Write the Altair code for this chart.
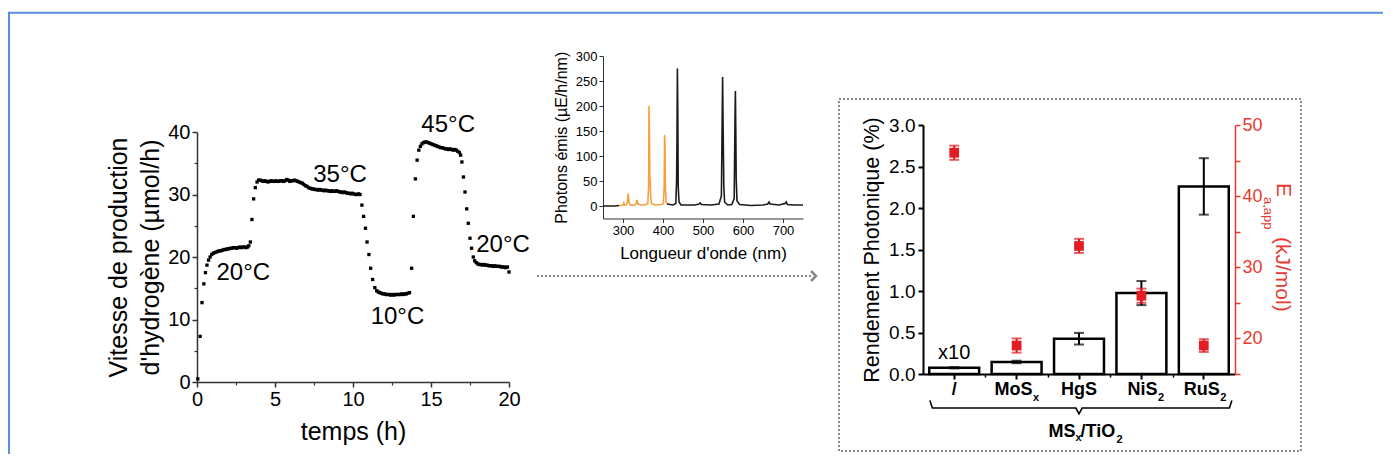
import altair as alt
import pandas as pd

FONT = "Liberation Sans"
W, H = 1375, 446
RED = "#e31d23"
RED_AX = "#e8392f"
ORANGE = "#f5a03c"
BLUE = "#5b8fd5"
GREY = "#8a8a8a"

# ---------------- panel 1 : H2 production rate vs time ----------------
time_h = [0.05, 0.2, 0.32, 0.44, 0.54, 0.64, 0.74, 0.84, 0.94,
          1.04, 1.14, 1.24, 1.34, 1.44, 1.54, 1.64, 1.74, 1.84, 1.94,
          2.04, 2.14, 2.24, 2.34, 2.44, 2.54, 2.64, 2.74, 2.84, 2.94,
          3.04, 3.14, 3.24, 3.32, 3.42, 3.52, 3.63, 3.74, 3.85, 3.95,
          4.05, 4.15, 4.25, 4.35, 4.45, 4.55, 4.65, 4.75, 4.85, 4.95,
          5.05, 5.15, 5.25, 5.35, 5.45, 5.55, 5.65, 5.75, 5.85, 5.95,
          6.05, 6.15, 6.25, 6.35, 6.45, 6.55, 6.65, 6.75, 6.85, 6.95,
          7.05, 7.15, 7.25, 7.35, 7.45, 7.55, 7.65, 7.75, 7.85, 7.95,
          8.05, 8.15, 8.25, 8.35, 8.45, 8.55, 8.65, 8.75, 8.85, 8.95,
          9.05, 9.15, 9.25, 9.35, 9.45, 9.55, 9.65, 9.75, 9.85, 9.95,
          10.05, 10.15, 10.25, 10.35, 10.45,
          10.57, 10.68, 10.8, 10.9, 11.02, 11.13, 11.26, 11.4, 11.52,
          11.62, 11.72, 11.82, 11.92, 12.02, 12.12, 12.22, 12.32, 12.42, 12.52,
          12.62, 12.72, 12.82, 12.92, 13.02, 13.12, 13.22, 13.32, 13.42, 13.52, 13.62,
          13.76, 13.87, 14.0, 14.11, 14.22,
          14.32, 14.42, 14.52, 14.62, 14.72, 14.82, 14.92, 15.02, 15.12, 15.22,
          15.32, 15.42, 15.52, 15.62, 15.72, 15.82, 15.92, 16.02, 16.12, 16.22,
          16.32, 16.42, 16.52, 16.62, 16.72, 16.82, 16.9,
          16.98, 17.08, 17.18, 17.29, 17.39, 17.5, 17.6, 17.71,
          17.8, 17.9, 18.0, 18.1, 18.2, 18.3, 18.4, 18.5, 18.6, 18.7,
          18.8, 18.9, 19.0, 19.1, 19.2, 19.3, 19.4, 19.5, 19.6, 19.7,
          19.8, 19.9, 20.0]
rate = [0.5, 7.3, 12.7, 15.7, 17.5, 18.7, 19.5, 20.0, 20.4,
        20.6, 20.7, 20.8, 20.9, 21.0, 21.0, 21.1, 21.2, 21.2, 21.3,
        21.3, 21.4, 21.4, 21.5, 21.5, 21.4, 21.5, 21.6, 21.5, 21.6,
        21.6, 21.5, 21.6, 21.8, 22.4, 26.0, 29.3, 31.1, 32.0, 32.3,
        32.3, 32.2, 32.1, 32.2, 32.1, 32.0, 32.1, 32.2, 32.1, 32.1,
        32.2, 32.1, 32.1, 32.2, 32.2, 32.1, 32.2, 32.4, 32.3, 32.1,
        32.2, 32.2, 32.3, 32.2, 32.1, 32.0, 31.9, 31.8, 31.6, 31.4,
        31.3, 31.1, 31.0, 30.9, 30.9, 30.8, 30.8, 30.7, 30.8, 30.7,
        30.7, 30.6, 30.7, 30.6, 30.6, 30.5, 30.6, 30.5, 30.5, 30.6,
        30.5, 30.4, 30.4, 30.3, 30.4, 30.3, 30.2, 30.2, 30.1, 30.2,
        30.1, 30.0, 30.0, 30.1, 30.0,
        28.3, 26.5, 24.6, 22.4, 20.4, 18.2, 16.4, 15.1, 14.6,
        14.4, 14.3, 14.2, 14.1, 14.1, 14.0, 14.0, 14.0, 13.9, 14.0,
        13.9, 14.0, 14.0, 14.0, 14.0, 14.1, 14.0, 14.1, 14.1, 14.2, 14.3,
        18.2, 26.5, 32.5, 35.5, 37.1,
        37.7, 38.1, 38.3, 38.4, 38.4, 38.3, 38.2, 38.1, 38.0, 37.9,
        37.8, 37.7, 37.6, 37.5, 37.5, 37.4, 37.3, 37.3, 37.2, 37.3,
        37.2, 37.1, 37.2, 37.1, 36.9, 36.7, 36.3,
        35.2, 32.8, 30.4, 27.7, 25.4, 23.0, 21.4, 20.0,
        19.4, 19.1, 18.9, 18.8, 18.8, 18.7, 18.8, 18.7, 18.7, 18.6,
        18.6, 18.6, 18.5, 18.6, 18.5, 18.5, 18.5, 18.4, 18.4, 18.4,
        18.3, 18.4, 17.6]
temp_labels = ["20°C", "35°C", "10°C", "45°C", "20°C"]
temp_t = [2.97, 9.17, 12.85, 16.1, 19.62]
temp_v = [17.5, 33.2, 10.4, 41.1, 21.9]

# ---------------- panel 2 : lamp emission spectrum ----------------
nm_vis1 = [250, 265, 280, 290]
ph_vis1 = [0, 0, 0, 1]
nm_uv = [290, 296, 300, 302, 304, 308, 311, 313, 315, 318, 330, 333, 335, 337, 345, 355, 362,
         364, 365, 366, 367, 368, 369, 371, 380, 395, 401, 403, 404, 405, 406, 407, 408, 410]
ph_uv = [1, 1, 2, 6, 2, 2, 8, 25, 8, 2, 2, 5, 12, 4, 2, 2, 5,
         40, 200, 150, 55, 50, 20, 5, 2, 3, 5, 40, 142, 120, 30, 25, 8, 4]
nm_vis2 = [410, 425, 432, 434, 435, 436, 437, 438, 440, 445, 480, 490, 493, 496, 520, 540,
           546, 548, 549, 550, 551, 552, 554, 562, 572, 578, 580, 581, 582, 583, 585, 592,
           620, 650, 662, 665, 668, 690, 705, 708, 711, 730, 750]
ph_vis2 = [4, 2, 5, 50, 135, 275, 185, 40, 8, 2, 2, 4, 6, 3, 2, 4,
           20, 175, 258, 180, 110, 40, 8, 2, 3, 15, 175, 230, 150, 55, 10, 3,
           1, 2, 4, 8, 4, 2, 5, 8, 3, 2, 2]

# ---------------- panel 3 : photonic yield and activation energy ----------------
cats = ["/", "MoSx", "HgS", "NiS2", "RuS2"]
cat_main = ["/", "MoS", "HgS", "NiS", "RuS"]
cat_sub = ["", "x", "", "2", "2"]
yield_pct = [0.075, 0.145, 0.425, 0.975, 2.26]
yield_err = [0.008, 0.015, 0.07, 0.145, 0.34]
ea_kj = [46.1, 19.0, 33.0, 26.0, 19.0]
ea_err = [1.0, 1.0, 1.0, 1.0, 0.9]
brace_x = [-0.39, -0.35, 1.95, 2.0, 2.05, 4.41, 4.45]
brace_y = [-0.32, -0.41, -0.41, -0.48, -0.41, -0.41, -0.32]

# ---------------- tables ----------------
ts_df = pd.DataFrame({"t": time_h, "v": rate})
ann_df = pd.DataFrame({"t": temp_t, "v": temp_v, "lab": temp_labels})
spec_df = pd.concat([
    pd.DataFrame({"nm": nm_vis1, "ph": ph_vis1, "part": "vis", "seg": "a"}),
    pd.DataFrame({"nm": nm_uv, "ph": ph_uv, "part": "uv", "seg": "b"}),
    pd.DataFrame({"nm": nm_vis2, "ph": ph_vis2, "part": "vis", "seg": "c"}),
], ignore_index=True)
cat_df = pd.DataFrame({"cat": cats, "main": cat_main, "sub": cat_sub,
                       "yld": yield_pct, "yerr": yield_err, "ea": ea_kj, "eerr": ea_err})
cat_df["ylo"] = cat_df["yld"] - cat_df["yerr"]
cat_df["yhi"] = cat_df["yld"] + cat_df["yerr"]
cat_df["elo"] = cat_df["ea"] - cat_df["eerr"]
cat_df["ehi"] = cat_df["ea"] + cat_df["eerr"]
ycaps = pd.concat([cat_df[["cat", "ylo"]].rename(columns={"ylo": "val"}),
                   cat_df[["cat", "yhi"]].rename(columns={"yhi": "val"})])
ecaps = pd.concat([cat_df[["cat", "elo"]].rename(columns={"elo": "val"}),
                   cat_df[["cat", "ehi"]].rename(columns={"ehi": "val"})])
brace_df = pd.DataFrame({"bx": brace_x, "by": brace_y, "k": list(range(len(brace_x)))})
one = pd.DataFrame({"k": [0]})

# ---------------- scales (pixel ranges inside the single canvas) ----------------
x1 = alt.Scale(domain=[0, 20], range=[189, 501], nice=False, zero=False)
y1 = alt.Scale(domain=[0, 40], range=[374, 124], nice=False, zero=False)
x2s = alt.Scale(domain=[250, 750], range=[595, 795], nice=False, zero=False)
y2s = alt.Scale(domain=[-25, 300], range=[210.5, 48], nice=False, zero=False)
xb = alt.Scale(type="band", domain=cats, range=[915, 1227], paddingInner=0.2, paddingOuter=0.1)
xi = alt.Scale(domain=[-0.5, 4.5], range=[915, 1227], nice=False, zero=False)
yl = alt.Scale(domain=[0, 3], range=[366, 117], nice=False, zero=False)
yr = alt.Scale(domain=[15, 50], range=[366, 117], nice=False, zero=False)

layers = []

# ---- panel 1
layers.append(alt.Chart(ts_df).mark_square(size=11, color="black", opacity=1).encode(
    x=alt.X("t:Q", scale=x1, axis=alt.Axis(
        orient="bottom", offset=374 - H, values=[0, 5, 10, 15, 20], title="temps (h)",
        tickSize=5, labelFontSize=20, labelPadding=2, titleFontSize=25, titlePadding=10,
        domainWidth=1.5, tickWidth=1.5, labelFlush=False, domainColor="#333", tickColor="#333")),
    y=alt.Y("v:Q", scale=y1, axis=alt.Axis(
        orient="left", offset=-189, values=[0, 10, 20, 30, 40],
        title=["Vitesse de production", "d'hydrogène (µmol/h)"],
        tickSize=5, labelFontSize=20, labelPadding=2, titleFontSize=25, titlePadding=4,
        titleLineHeight=32, domainWidth=1.5, tickWidth=1.5, labelFlush=False,
        domainColor="#333", tickColor="#333"))))
layers.append(alt.Chart(ts_df).mark_point(opacity=0).encode(
    x=alt.X("t:Q", scale=x1, axis=alt.Axis(
        orient="bottom", offset=374 - H, values=[2.5, 7.5, 12.5, 17.5], labels=False,
        domain=False, tickSize=3, tickWidth=1.2, title=None, tickColor="#333")),
    y=alt.Y("v:Q", scale=y1, axis=alt.Axis(
        orient="left", offset=-189, values=[5, 15, 25, 35], labels=False,
        domain=False, tickSize=3, tickWidth=1.2, title=None, tickColor="#333"))))
layers.append(alt.Chart(ann_df).mark_text(fontSize=24, align="center", baseline="middle").encode(
    x=alt.X("t:Q", scale=x1, axis=None),
    y=alt.Y("v:Q", scale=y1, axis=None),
    text="lab:N"))

# ---- panel 2
layers.append(alt.Chart(spec_df).mark_line(strokeWidth=1.6).encode(
    x=alt.X("nm:Q", scale=x2s, axis=alt.Axis(
        orient="bottom", offset=210.5 - H, values=[300, 400, 500, 600, 700],
        title="Longueur d'onde (nm)", tickSize=4, labelFontSize=13, labelPadding=2,
        titleFontSize=17, titlePadding=8, labelFlush=False, domainColor="#333", tickColor="#333")),
    y=alt.Y("ph:Q", scale=y2s, axis=alt.Axis(
        orient="left", offset=-595, values=[0, 50, 100, 150, 200, 250, 300],
        title="Photons émis (µE/h/nm)", tickSize=4, labelFontSize=13, labelPadding=2,
        titleFontSize=16, titlePadding=6, labelFlush=False, domainColor="#333", tickColor="#333")),
    color=alt.Color("part:N", scale=alt.Scale(domain=["uv", "vis"], range=[ORANGE, "#1a1a1a"]), legend=None),
    detail="seg:N",
    order=alt.Order("nm:Q")))

# ---- panel 3
layers.append(alt.Chart(cat_df).mark_bar(fill="white", stroke="black", strokeWidth=2.5).encode(
    x=alt.X("cat:N", scale=xb, axis=alt.Axis(
        orient="bottom", offset=366 - H, labels=False, tickSize=5, tickWidth=2,
        domainWidth=2, title=None)),
    y=alt.Y("yld:Q", scale=yl, axis=alt.Axis(
        orient="left", offset=-915, values=[0, 0.5, 1, 1.5, 2, 2.5, 3], format=".1f",
        tickSize=5, tickWidth=2, domainWidth=2, labelFontSize=19, labelPadding=3,
        title="Rendement Photonique (%)", titleFontSize=21.5, titlePadding=5, labelFlush=False))))
layers.append(alt.Chart(brace_df).mark_line(color="black", strokeWidth=1.6).encode(
    x=alt.X("bx:Q", scale=xi, axis=alt.Axis(
        orient="bottom", offset=366 - H, values=[0.5, 1.5, 2.5, 3.5], labels=False,
        domain=False, tickSize=3, tickWidth=1.5, title=None)),
    y=alt.Y("by:Q", scale=yl, axis=None),
    order=alt.Order("k:Q")))
layers.append(alt.Chart(cat_df).mark_rule(color="black", strokeWidth=2).encode(
    x=alt.X("cat:N", scale=xb, axis=None),
    y=alt.Y("ylo:Q", scale=yl, axis=None), y2="yhi:Q"))
layers.append(alt.Chart(ycaps).mark_tick(color="black", thickness=2, size=10).encode(
    x=alt.X("cat:N", scale=xb, axis=None),
    y=alt.Y("val:Q", scale=yl, axis=None)))
layers.append(alt.Chart(cat_df).mark_rule(color=RED, strokeWidth=2).encode(
    x=alt.X("cat:N", scale=xb, axis=None),
    y=alt.Y("elo:Q", scale=yr, axis=None), y2="ehi:Q"))
layers.append(alt.Chart(ecaps).mark_tick(color=RED, thickness=2, size=10).encode(
    x=alt.X("cat:N", scale=xb, axis=None),
    y=alt.Y("val:Q", scale=yr, axis=None)))
layers.append(alt.Chart(cat_df).mark_square(size=95, color=RED, opacity=1).encode(
    x=alt.X("cat:N", scale=xb, axis=None),
    y=alt.Y("ea:Q", scale=yr, axis=alt.Axis(
        orient="right", offset=1227 - W, values=[15, 20, 25, 30, 35, 40, 45, 50],
        labelExpr="datum.value % 10 == 0 ? datum.label : ''",
        tickSize=5, tickWidth=1.5, domainWidth=1.5, labelFontSize=18, labelPadding=2,
        domainColor=RED_AX, tickColor=RED_AX, labelColor=RED_AX, title=None, labelFlush=False))))
# category labels
layers.append(alt.Chart(cat_df).transform_filter("datum.sub == ''").mark_text(
    fontSize=18, fontWeight="bold", align="center", baseline="alphabetic").encode(
    x=alt.X("cat:N", scale=xb, axis=None), y=alt.value(387), text="main:N"))
layers.append(alt.Chart(cat_df).transform_filter("datum.sub != ''").mark_text(
    fontSize=18, fontWeight="bold", align="right", baseline="alphabetic", dx=16).encode(
    x=alt.X("cat:N", scale=xb, axis=None), y=alt.value(387), text="main:N"))
layers.append(alt.Chart(cat_df).transform_filter("datum.sub != ''").mark_text(
    fontSize=11, fontWeight="bold", align="left", baseline="alphabetic", dx=16.5).encode(
    x=alt.X("cat:N", scale=xb, axis=None), y=alt.value(393), text="sub:N"))
layers.append(alt.Chart(cat_df.head(1)).mark_text(fontSize=20, align="center", baseline="middle").encode(
    x=alt.X("cat:N", scale=xb, axis=None), y=alt.value(345), text=alt.value("x10")))

# group label MSx/TiO2 under the brace
grp = pd.DataFrame({"bx": [2.0]})
def grp_text(text, size, dx, y, align):
    return alt.Chart(grp).mark_text(fontSize=size, fontWeight="bold", align=align,
                                    baseline="alphabetic", dx=dx).encode(
        x=alt.X("bx:Q", scale=xi, axis=None), y=alt.value(y), text=alt.value(text))
layers += [grp_text("MS", 18, -3.5, 428.5, "right"),
           grp_text("x", 11, -3.5, 432.5, "left"),
           grp_text("/TiO", 18, 1.5, 428.5, "left"),
           grp_text("2", 11, 37.5, 435, "left")]

# right axis title E_a,app (kJ/mol)
def vtext(text, size, x, y):
    return alt.Chart(one).mark_text(text=text, fontSize=size, angle=90, align="left",
                                    baseline="middle", color=RED_AX).encode(
        x=alt.value(x), y=alt.value(y))
layers += [vtext("E", 21, 1275, 175), vtext("a,app", 13, 1260, 189), vtext("(kJ/mol)", 21, 1274, 229)]

# ---- decorations: frame, dotted box, dotted arrow
layers.append(alt.Chart(one).mark_rule(color=BLUE, strokeWidth=2).encode(
    x=alt.value(0), x2=alt.value(W), y=alt.value(4.7)))
layers.append(alt.Chart(one).mark_rule(color=BLUE, strokeWidth=2).encode(
    x=alt.value(1), y=alt.value(4.7), y2=alt.value(H)))
layers.append(alt.Chart(one).mark_rect(fillOpacity=0, stroke=GREY, strokeWidth=2, strokeDash=[2, 2]).encode(
    x=alt.value(831), x2=alt.value(1293), y=alt.value(91), y2=alt.value(443)))
layers.append(alt.Chart(one).mark_rule(color=GREY, strokeWidth=2, strokeDash=[2, 2]).encode(
    x=alt.value(529), x2=alt.value(803), y=alt.value(268)))
layers.append(alt.Chart(one).mark_point(shape="M-1,-1L0,0L-1,1", filled=False, size=100,
                                        stroke=GREY, strokeWidth=2.5, opacity=1).encode(
    x=alt.value(808), y=alt.value(268)))

chart = alt.layer(*layers).resolve_scale(
    x="independent", y="independent"
).properties(
    width=W, height=H, padding=0, autosize="none"
).configure_view(stroke=None).configure_axis(
    grid=False, labelFont=FONT, titleFont=FONT, labelColor="black", titleColor="black",
    titleFontWeight="normal", domainColor="black", tickColor="black"
).configure_text(font=FONT, color="black")

chart.save("out.html", embed_options={"renderer": "svg", "actions": False})
